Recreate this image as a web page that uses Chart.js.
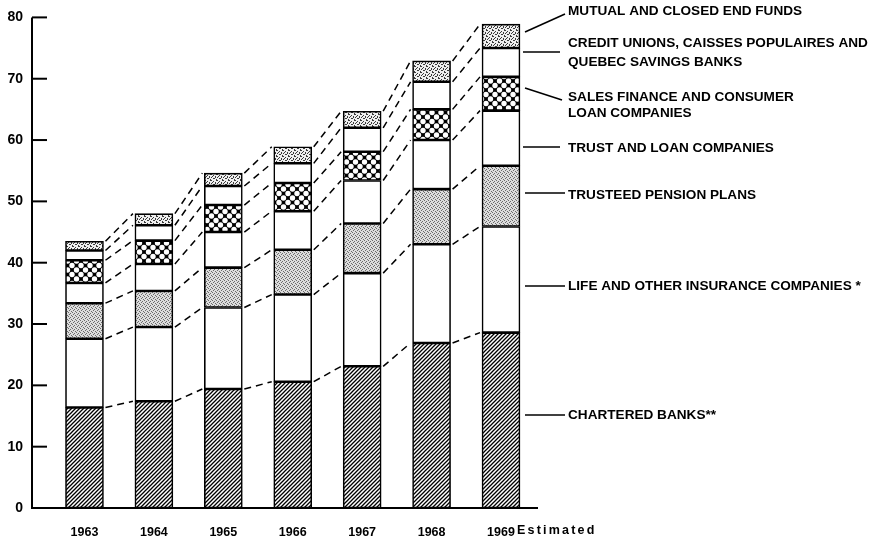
<!DOCTYPE html>
<html>
<head>
<meta charset="utf-8">
<script src="https://cdn.jsdelivr.net/npm/chart.js@4/dist/chart.umd.min.js"></script>
<style>
html,body{margin:0;padding:0;background:#fff;}
#wrap{width:878px;height:543px;position:relative;}
</style>
</head>
<body>
<div id="wrap"><canvas id="c" width="878" height="543"></canvas></div>
<script>
// ---- DATA ----
const years = [1963, 1964, 1965, 1966, 1967, 1968, 1969];
const charteredBanks   = [16.4, 17.4, 19.4, 20.6, 23.1, 26.9, 28.6];
const lifeInsurance    = [11.2, 12.1, 13.3, 14.2, 15.2, 16.1, 17.3];
const trusteedPension  = [5.8, 5.9, 6.5, 7.3, 8.1, 9.0, 9.9];
const trustLoan        = [3.3, 4.4, 5.8, 6.3, 7.0, 8.0, 9.0];
const salesFinance     = [3.7, 3.8, 4.4, 4.6, 4.7, 5.0, 5.5];
const creditUnions     = [1.6, 2.5, 3.1, 3.2, 3.9, 4.5, 4.7];
const mutualFunds      = [1.5, 1.9, 2.1, 2.7, 2.7, 3.4, 3.9];
const yTicks = [0, 10, 20, 30, 40, 50, 60, 70, 80];
const lastNote = "Estimated";
const seriesNames = [
  ["CHARTERED BANKS**"],
  ["LIFE AND OTHER INSURANCE COMPANIES *"],
  ["TRUSTEED PENSION PLANS"],
  ["TRUST AND LOAN COMPANIES"],
  ["SALES FINANCE AND CONSUMER", "LOAN COMPANIES"],
  ["CREDIT UNIONS, CAISSES POPULAIRES AND", "QUEBEC SAVINGS BANKS"],
  ["MUTUAL AND CLOSED END FUNDS"]
];

// ---- PATTERNS ----
function tile(w, h, draw) {
  const c = document.createElement('canvas');
  c.width = w; c.height = h;
  const x = c.getContext('2d');
  draw(x, w, h);
  return x.createPattern(c, 'repeat');
}
const hatch = tile(4, 4, (x) => {
  x.fillStyle = '#fff'; x.fillRect(0, 0, 4, 4);
  x.strokeStyle = '#000'; x.lineWidth = 1.3;
  x.beginPath();
  x.moveTo(-1, 5); x.lineTo(5, -1);
  x.moveTo(-3, 3); x.lineTo(3, -3);
  x.moveTo(1, 7); x.lineTo(7, 1);
  x.stroke();
});
const fineStipple = tile(4, 4, (x) => {
  x.fillStyle = '#dcdcdc'; x.fillRect(0, 0, 4, 4);
  x.fillStyle = '#6a6a6a';
  [[0,0],[2,1],[1,2],[3,3]].forEach(p => x.fillRect(p[0], p[1], 1, 1));
});
const crossHatch = tile(9, 9, (x) => {
  x.fillStyle = '#000'; x.fillRect(0, 0, 9, 9);
  x.fillStyle = '#fff';
  [[4.5,0],[4.5,9],[0,4.5],[9,4.5]].forEach(p => {
    x.beginPath(); x.arc(p[0], p[1], 2.7, 0, Math.PI * 2); x.fill();
  });
});
const coarseStipple = tile(6, 6, (x) => {
  x.fillStyle = '#efefef'; x.fillRect(0, 0, 6, 6);
  x.fillStyle = '#3a3a3a';
  [[0,0,2,1],[3,1,1,1],[5,2,1,2],[1,3,1,1],[3,4,2,1],[0,5,1,1],[2,2,1,1]].forEach(p => x.fillRect(p[0], p[1], p[2], p[3]));
});

const seriesData = [charteredBanks, lifeInsurance, trusteedPension, trustLoan, salesFinance, creditUnions, mutualFunds];
const fills = [hatch, '#ffffff', fineStipple, '#ffffff', crossHatch, '#ffffff', coarseStipple];

const datasets = seriesData.map((d, i) => ({
  label: seriesNames[i].join(' '),
  data: d,
  backgroundColor: fills[i],
  borderColor: '#000',
  borderWidth: 1.6,
  borderSkipped: false,
  barThickness: 38
}));

// ---- PLUGINS ----
const connectors = {
  id: 'connectors',
  afterDatasetsDraw(chart) {
    const ctx = chart.ctx;
    ctx.save();
    ctx.strokeStyle = '#000';
    ctx.lineWidth = 1.5;
    ctx.setLineDash([7, 5]);
    chart.data.datasets.forEach((ds, di) => {
      const els = chart.getDatasetMeta(di).data;
      for (let i = 0; i < els.length - 1; i++) {
        const a = els[i], b = els[i + 1];
        ctx.beginPath();
        ctx.moveTo(a.x + a.width / 2 + 2, a.y);
        ctx.lineTo(b.x - b.width / 2 - 2, b.y);
        ctx.stroke();
      }
    });
    ctx.restore();
  }
};

const frame = {
  id: 'frame',
  afterDraw(chart) {
    const ctx = chart.ctx;
    const ys = chart.scales.y, xs = chart.scales.x;
    const area = chart.chartArea;
    ctx.save();
    ctx.strokeStyle = '#000';
    ctx.lineWidth = 2;
    ctx.beginPath();
    ctx.moveTo(area.left, ys.getPixelForValue(80));
    ctx.lineTo(area.left, ys.getPixelForValue(0));
    ctx.lineTo(area.right, ys.getPixelForValue(0));
    ctx.stroke();
    yTicks.forEach(v => {
      const y = ys.getPixelForValue(v);
      ctx.beginPath();
      ctx.moveTo(area.left, y);
      ctx.lineTo(area.left + 15, y);
      ctx.stroke();
    });
    // "Estimated" note after last year label
    const lx = xs.getPixelForValue(years[years.length - 1]);
    ctx.fillStyle = '#000';
    ctx.font = 'bold 12.5px "Liberation Sans", Arial, sans-serif';
    ctx.letterSpacing = '2.2px';
    ctx.textBaseline = 'middle';
    ctx.textAlign = 'left';
    ctx.fillText(lastNote, lx + 16, 531);
    ctx.letterSpacing = '0px';
    // legend labels with leader lines
    const labelY = [[415], [286], [195], [148], [97, 113], [43, 62], [11]];
    const leaders = [
      [525, 415, 565, 415], [525, 286, 565, 286], [525, 193, 565, 193],
      [523, 147, 560, 147], [525, 88, 562, 100], [523, 52, 560, 52], [525, 32, 565, 14]
    ];
    ctx.font = 'bold 13.6px "Liberation Sans", Arial, sans-serif';
    ctx.lineWidth = 1.5;
    seriesNames.forEach((lines, i) => {
      const L = leaders[i];
      ctx.beginPath(); ctx.moveTo(L[0], L[1]); ctx.lineTo(L[2], L[3]); ctx.stroke();
      lines.forEach((t, j) => ctx.fillText(t, 568, labelY[i][j]));
    });
    ctx.restore();
  }
};

Chart.defaults.font.family = '"Liberation Sans", Arial, sans-serif';
Chart.defaults.color = '#000';

new Chart(document.getElementById('c'), {
  type: 'bar',
  data: { labels: years, datasets },
  options: {
    responsive: false,
    animation: false,
    layout: { padding: { top: 12, right: 340, bottom: 0, left: 0 } },
    plugins: { legend: { display: false }, tooltip: { enabled: false } },
    scales: {
      x: {
        type: 'linear',
        stacked: true,
        offset: false,
        min: 1962.244,
        max: 1969.533,
        grid: { display: false, drawTicks: false },
        border: { display: false },
        afterBuildTicks: (axis) => { axis.ticks = years.map(v => ({ value: v })); },
        afterFit: (s) => { s.height = 35; },
        ticks: {
          autoSkip: false,
          maxRotation: 0,
          padding: 17,
          font: { size: 12.5, weight: 'bold' },
          callback: (v) => String(v)
        }
      },
      y: {
        stacked: true,
        min: 0,
        max: 80,
        grid: { display: false, drawTicks: false },
        border: { display: false },
        afterFit: (s) => { s.width = 32; },
        ticks: {
          stepSize: 10,
          padding: 9,
          font: { size: 14, weight: 'bold' }
        }
      }
    }
  },
  plugins: [connectors, frame]
});
</script>
</body>
</html>
